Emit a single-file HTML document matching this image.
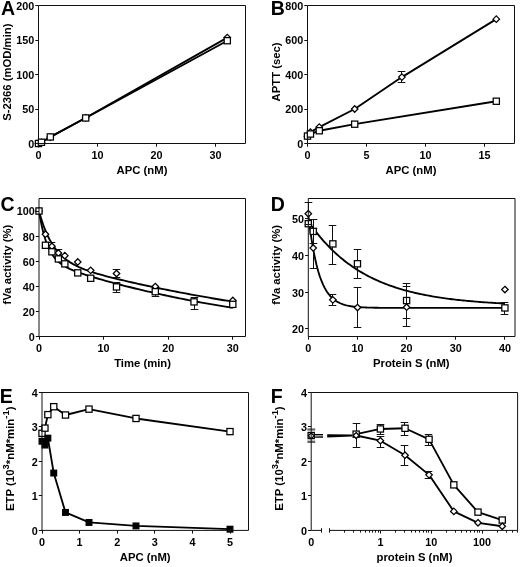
<!DOCTYPE html>
<html><head><meta charset="utf-8"><style>
html,body{margin:0;padding:0;background:#fff;}
svg{display:block;will-change:transform;}
text{font-family:"Liberation Sans", sans-serif;font-weight:bold;fill:#000;}
</style></head><body>
<svg width="520" height="567" viewBox="0 0 520 567">
<rect width="520" height="567" fill="#fff"/>
<polyline points="38.50,143.50 41.45,142.26 50.30,137.08 85.70,117.76 227.30,37.59" fill="none" stroke="#000" stroke-width="1.85" stroke-linejoin="round"/>
<polyline points="38.50,143.50 41.45,142.26 50.30,136.94 85.70,117.97 227.30,40.69" fill="none" stroke="#000" stroke-width="1.85" stroke-linejoin="round"/>
<path d="M38.50 140.25L41.75 143.50L38.50 146.75L35.25 143.50Z" fill="#fff" stroke="#000" stroke-width="1.25"/>
<path d="M41.45 139.01L44.70 142.26L41.45 145.51L38.20 142.26Z" fill="#fff" stroke="#000" stroke-width="1.25"/>
<path d="M50.30 133.83L53.55 137.08L50.30 140.33L47.05 137.08Z" fill="#fff" stroke="#000" stroke-width="1.25"/>
<path d="M85.70 114.51L88.95 117.76L85.70 121.01L82.45 117.76Z" fill="#fff" stroke="#000" stroke-width="1.25"/>
<path d="M227.30 34.34L230.55 37.59L227.30 40.84L224.05 37.59Z" fill="#fff" stroke="#000" stroke-width="1.25"/>
<rect x="35.40" y="140.40" width="6.2" height="6.2" fill="#fff" stroke="#000" stroke-width="1.25"/>
<rect x="38.35" y="139.16" width="6.2" height="6.2" fill="#fff" stroke="#000" stroke-width="1.25"/>
<rect x="47.20" y="133.84" width="6.2" height="6.2" fill="#fff" stroke="#000" stroke-width="1.25"/>
<rect x="82.60" y="114.87" width="6.2" height="6.2" fill="#fff" stroke="#000" stroke-width="1.25"/>
<rect x="224.20" y="37.59" width="6.2" height="6.2" fill="#fff" stroke="#000" stroke-width="1.25"/>
<polyline points="307.50,136.25 310.45,132.12 319.30,127.11 354.70,109.00 401.90,77.09 496.30,19.13" fill="none" stroke="#000" stroke-width="1.85" stroke-linejoin="round"/>
<polyline points="307.50,136.08 310.45,134.01 319.30,130.74 354.70,124.18 496.30,101.24" fill="none" stroke="#000" stroke-width="1.85" stroke-linejoin="round"/>
<line x1="401.50" y1="71.50" x2="401.50" y2="82.50" stroke="#111" stroke-width="1"/>
<line x1="397.70" y1="71.50" x2="405.30" y2="71.50" stroke="#111" stroke-width="1"/>
<line x1="397.70" y1="82.50" x2="405.30" y2="82.50" stroke="#111" stroke-width="1"/>
<path d="M307.50 133.00L310.75 136.25L307.50 139.50L304.25 136.25Z" fill="#fff" stroke="#000" stroke-width="1.25"/>
<path d="M310.45 128.87L313.70 132.12L310.45 135.37L307.20 132.12Z" fill="#fff" stroke="#000" stroke-width="1.25"/>
<path d="M319.30 123.86L322.55 127.11L319.30 130.36L316.05 127.11Z" fill="#fff" stroke="#000" stroke-width="1.25"/>
<path d="M354.70 105.75L357.95 109.00L354.70 112.25L351.45 109.00Z" fill="#fff" stroke="#000" stroke-width="1.25"/>
<path d="M401.90 73.84L405.15 77.09L401.90 80.34L398.65 77.09Z" fill="#fff" stroke="#000" stroke-width="1.25"/>
<path d="M496.30 15.88L499.55 19.13L496.30 22.38L493.05 19.13Z" fill="#fff" stroke="#000" stroke-width="1.25"/>
<rect x="304.40" y="132.98" width="6.2" height="6.2" fill="#fff" stroke="#000" stroke-width="1.25"/>
<rect x="307.35" y="130.91" width="6.2" height="6.2" fill="#fff" stroke="#000" stroke-width="1.25"/>
<rect x="316.20" y="127.64" width="6.2" height="6.2" fill="#fff" stroke="#000" stroke-width="1.25"/>
<rect x="351.60" y="121.08" width="6.2" height="6.2" fill="#fff" stroke="#000" stroke-width="1.25"/>
<rect x="493.20" y="98.14" width="6.2" height="6.2" fill="#fff" stroke="#000" stroke-width="1.25"/>
<polyline points="39.00,211.00 39.50,212.82 39.99,214.59 40.49,216.30 40.99,217.95 41.48,219.55 41.98,221.10 42.48,222.59 42.98,224.04 43.47,225.45 43.97,226.81 44.47,228.12 44.96,229.40 45.46,230.63 45.96,231.83 46.45,232.98 46.95,234.11 47.45,235.19 47.94,236.25 48.44,237.27 48.94,238.26 49.44,239.22 49.93,240.15 50.43,241.05 50.93,241.93 51.42,242.78 51.92,243.60 52.42,244.40 52.91,245.18 53.41,245.94 53.91,246.67 54.40,247.38 54.90,248.07 55.40,248.74 55.90,249.39 56.39,250.03 56.89,250.65 57.39,251.24 57.88,251.83 58.38,252.39 58.38,252.39 61.34,255.47 64.29,258.10 67.25,260.38 70.21,262.37 73.16,264.12 76.12,265.68 79.07,267.09 82.03,268.36 84.99,269.54 87.94,270.62 90.90,271.64 93.86,272.60 96.81,273.51 99.77,274.38 102.72,275.22 105.68,276.03 108.64,276.81 111.59,277.58 114.55,278.32 117.51,279.05 120.46,279.77 123.42,280.47 126.37,281.17 129.33,281.85 132.29,282.52 135.24,283.19 138.20,283.84 141.16,284.49 144.11,285.13 147.07,285.76 150.02,286.39 152.98,287.01 155.94,287.63 158.89,288.23 161.85,288.84 164.81,289.43 167.76,290.02 170.72,290.61 173.67,291.18 176.63,291.76 179.59,292.32 182.54,292.89 185.50,293.44 188.46,294.00 191.41,294.54 194.37,295.08 197.32,295.62 200.28,296.15 203.24,296.68 206.19,297.20 209.15,297.71 212.11,298.23 215.06,298.73 218.02,299.23 220.97,299.73 223.93,300.22 226.89,300.71 229.84,301.19 232.80,301.67" fill="none" stroke="#000" stroke-width="1.85" stroke-linejoin="round"/>
<polyline points="39.00,211.00 39.50,214.04 39.99,216.90 40.49,219.61 40.99,222.17 41.48,224.59 41.98,226.88 42.48,229.04 42.98,231.08 43.47,233.02 43.97,234.85 44.47,236.58 44.96,238.23 45.46,239.78 45.96,241.25 46.45,242.65 46.95,243.98 47.45,245.23 47.94,246.42 48.44,247.56 48.94,248.63 49.44,249.65 49.93,250.63 50.43,251.55 50.93,252.43 51.42,253.27 51.92,254.07 52.42,254.83 52.91,255.56 53.41,256.25 53.91,256.91 54.40,257.54 54.90,258.15 55.40,258.73 55.90,259.28 56.39,259.82 56.89,260.33 57.39,260.82 57.88,261.29 58.38,261.74 58.38,261.74 61.34,264.11 64.29,266.05 67.25,267.69 70.21,269.12 73.16,270.39 76.12,271.55 79.07,272.63 82.03,273.66 84.99,274.63 87.94,275.58 90.90,276.49 93.86,277.38 96.81,278.26 99.77,279.11 102.72,279.96 105.68,280.79 108.64,281.60 111.59,282.41 114.55,283.21 117.51,283.99 120.46,284.76 123.42,285.53 126.37,286.28 129.33,287.02 132.29,287.76 135.24,288.48 138.20,289.20 141.16,289.91 144.11,290.60 147.07,291.29 150.02,291.97 152.98,292.64 155.94,293.31 158.89,293.96 161.85,294.61 164.81,295.25 167.76,295.88 170.72,296.50 173.67,297.11 176.63,297.72 179.59,298.32 182.54,298.91 185.50,299.49 188.46,300.07 191.41,300.64 194.37,301.20 197.32,301.75 200.28,302.30 203.24,302.84 206.19,303.37 209.15,303.90 212.11,304.42 215.06,304.93 218.02,305.44 220.97,305.94 223.93,306.43 226.89,306.92 229.84,307.40 232.80,307.88" fill="none" stroke="#000" stroke-width="1.85" stroke-linejoin="round"/>
<line x1="51.50" y1="242.50" x2="51.50" y2="251.50" stroke="#111" stroke-width="1"/>
<line x1="47.70" y1="242.50" x2="55.30" y2="242.50" stroke="#111" stroke-width="1"/>
<line x1="58.50" y1="249.50" x2="58.50" y2="255.50" stroke="#111" stroke-width="1"/>
<line x1="54.70" y1="249.50" x2="62.30" y2="249.50" stroke="#111" stroke-width="1"/>
<line x1="116.50" y1="269.50" x2="116.50" y2="277.50" stroke="#111" stroke-width="1"/>
<line x1="112.70" y1="269.50" x2="120.30" y2="269.50" stroke="#111" stroke-width="1"/>
<line x1="112.70" y1="277.50" x2="120.30" y2="277.50" stroke="#111" stroke-width="1"/>
<line x1="116.50" y1="282.50" x2="116.50" y2="292.50" stroke="#111" stroke-width="1"/>
<line x1="112.70" y1="282.50" x2="120.30" y2="282.50" stroke="#111" stroke-width="1"/>
<line x1="112.70" y1="292.50" x2="120.30" y2="292.50" stroke="#111" stroke-width="1"/>
<line x1="155.50" y1="287.50" x2="155.50" y2="296.50" stroke="#111" stroke-width="1"/>
<line x1="151.70" y1="287.50" x2="159.30" y2="287.50" stroke="#111" stroke-width="1"/>
<line x1="151.70" y1="296.50" x2="159.30" y2="296.50" stroke="#111" stroke-width="1"/>
<line x1="194.50" y1="297.50" x2="194.50" y2="309.50" stroke="#111" stroke-width="1"/>
<line x1="190.70" y1="297.50" x2="198.30" y2="297.50" stroke="#111" stroke-width="1"/>
<line x1="190.70" y1="309.50" x2="198.30" y2="309.50" stroke="#111" stroke-width="1"/>
<path d="M39.00 207.75L42.25 211.00L39.00 214.25L35.75 211.00Z" fill="#fff" stroke="#000" stroke-width="1.25"/>
<path d="M45.46 230.97L48.71 234.22L45.46 237.47L42.21 234.22Z" fill="#fff" stroke="#000" stroke-width="1.25"/>
<path d="M51.92 243.02L55.17 246.27L51.92 249.52L48.67 246.27Z" fill="#fff" stroke="#000" stroke-width="1.25"/>
<path d="M58.38 249.79L61.63 253.04L58.38 256.29L55.13 253.04Z" fill="#fff" stroke="#000" stroke-width="1.25"/>
<path d="M64.84 252.43L68.09 255.68L64.84 258.93L61.59 255.68Z" fill="#fff" stroke="#000" stroke-width="1.25"/>
<path d="M77.76 258.70L81.01 261.95L77.76 265.20L74.51 261.95Z" fill="#fff" stroke="#000" stroke-width="1.25"/>
<path d="M90.68 267.11L93.93 270.36L90.68 273.61L87.43 270.36Z" fill="#fff" stroke="#000" stroke-width="1.25"/>
<path d="M116.52 270.25L119.77 273.50L116.52 276.75L113.27 273.50Z" fill="#fff" stroke="#000" stroke-width="1.25"/>
<path d="M155.28 283.30L158.53 286.55L155.28 289.80L152.03 286.55Z" fill="#fff" stroke="#000" stroke-width="1.25"/>
<path d="M232.80 297.23L236.05 300.48L232.80 303.73L229.55 300.48Z" fill="#fff" stroke="#000" stroke-width="1.25"/>
<rect x="35.90" y="207.90" width="6.2" height="6.2" fill="#fff" stroke="#000" stroke-width="1.25"/>
<rect x="42.36" y="242.16" width="6.2" height="6.2" fill="#fff" stroke="#000" stroke-width="1.25"/>
<rect x="48.82" y="248.69" width="6.2" height="6.2" fill="#fff" stroke="#000" stroke-width="1.25"/>
<rect x="55.28" y="255.84" width="6.2" height="6.2" fill="#fff" stroke="#000" stroke-width="1.25"/>
<rect x="61.74" y="260.74" width="6.2" height="6.2" fill="#fff" stroke="#000" stroke-width="1.25"/>
<rect x="74.66" y="269.77" width="6.2" height="6.2" fill="#fff" stroke="#000" stroke-width="1.25"/>
<rect x="87.58" y="275.17" width="6.2" height="6.2" fill="#fff" stroke="#000" stroke-width="1.25"/>
<rect x="113.42" y="283.83" width="6.2" height="6.2" fill="#fff" stroke="#000" stroke-width="1.25"/>
<rect x="152.18" y="288.60" width="6.2" height="6.2" fill="#fff" stroke="#000" stroke-width="1.25"/>
<rect x="190.94" y="298.76" width="6.2" height="6.2" fill="#fff" stroke="#000" stroke-width="1.25"/>
<rect x="229.70" y="301.27" width="6.2" height="6.2" fill="#fff" stroke="#000" stroke-width="1.25"/>
<polyline points="308.30,221.37 309.95,223.75 311.60,226.07 313.26,228.32 314.91,230.51 316.56,232.64 318.21,234.70 319.86,236.71 321.52,238.67 323.17,240.57 324.82,242.41 326.47,244.20 328.13,245.95 329.78,247.64 331.43,249.29 333.08,250.89 334.73,252.44 336.39,253.96 338.04,255.43 339.69,256.86 341.34,258.24 342.99,259.59 344.65,260.90 346.30,262.18 347.95,263.42 349.60,264.62 351.25,265.79 352.91,266.93 354.56,268.04 356.21,269.11 357.86,270.16 359.52,271.17 361.17,272.16 362.82,273.12 364.47,274.05 366.12,274.96 367.78,275.84 369.43,276.70 371.08,277.53 372.73,278.34 374.38,279.12 376.04,279.89 377.69,280.63 379.34,281.35 380.99,282.05 382.64,282.74 384.30,283.40 385.95,284.04 387.60,284.67 389.25,285.28 390.91,285.87 392.56,286.44 394.21,287.00 395.86,287.55 397.51,288.07 399.17,288.59 400.82,289.09 402.47,289.57 404.12,290.04 405.77,290.50 407.43,290.95 409.08,291.38 410.73,291.80 412.38,292.21 414.03,292.60 415.69,292.99 417.34,293.37 418.99,293.73 420.64,294.09 422.29,294.43 423.95,294.77 425.60,295.09 427.25,295.41 428.90,295.71 430.56,296.01 432.21,296.30 433.86,296.59 435.51,296.86 437.16,297.13 438.82,297.39 440.47,297.64 442.12,297.88 443.77,298.12 445.42,298.35 447.08,298.58 448.73,298.80 450.38,299.01 452.03,299.22 453.68,299.42 455.34,299.61 456.99,299.80 458.64,299.99 460.29,300.17 461.95,300.34 463.60,300.51 465.25,300.67 466.90,300.83 468.55,300.99 470.21,301.14 471.86,301.29 473.51,301.43 475.16,301.57 476.81,301.70 478.47,301.83 480.12,301.96 481.77,302.09 483.42,302.21 485.07,302.32 486.73,302.44 488.38,302.55 490.03,302.65 491.68,302.76 493.34,302.86 494.99,302.96 496.64,303.06 498.29,303.15 499.94,303.24 501.60,303.33 503.25,303.41 504.90,303.50" fill="none" stroke="#000" stroke-width="1.85" stroke-linejoin="round"/>
<polyline points="308.30,214.82 309.95,228.18 311.60,239.63 313.26,249.43 314.91,257.83 316.56,265.02 318.21,271.18 319.86,276.45 321.52,280.97 323.17,284.84 324.82,288.15 326.47,290.99 328.13,293.42 329.78,295.50 331.43,297.29 333.08,298.81 334.73,300.12 336.39,301.24 338.04,302.20 339.69,303.02 341.34,303.73 342.99,304.33 344.65,304.84 346.30,305.29 347.95,305.67 349.60,305.99 351.25,306.27 352.91,306.51 354.56,306.71 356.21,306.88 357.86,307.03 359.52,307.16 361.17,307.27 362.82,307.36 364.47,307.44 366.12,307.51 367.78,307.57 369.43,307.62 371.08,307.67 372.73,307.70 374.38,307.73 376.04,307.76 377.69,307.79 379.34,307.81 380.99,307.82 382.64,307.84 384.30,307.85 385.95,307.86 387.60,307.87 389.25,307.88 390.91,307.88 392.56,307.89 394.21,307.89 395.86,307.90 397.51,307.90 399.17,307.91 400.82,307.91 402.47,307.91 404.12,307.91 405.77,307.91 407.43,307.92 409.08,307.92 410.73,307.92 412.38,307.92 414.03,307.92 415.69,307.92 417.34,307.92 418.99,307.92 420.64,307.92 422.29,307.92 423.95,307.92 425.60,307.92 427.25,307.92 428.90,307.92 430.56,307.92 432.21,307.92 433.86,307.92 435.51,307.92 437.16,307.92 438.82,307.92 440.47,307.92 442.12,307.92 443.77,307.92 445.42,307.92 447.08,307.92 448.73,307.92 450.38,307.92 452.03,307.92 453.68,307.92 455.34,307.92 456.99,307.92 458.64,307.92 460.29,307.92 461.95,307.92 463.60,307.92 465.25,307.92 466.90,307.92 468.55,307.92 470.21,307.92 471.86,307.92 473.51,307.92 475.16,307.92 476.81,307.92 478.47,307.92 480.12,307.92 481.77,307.92 483.42,307.92 485.07,307.92 486.73,307.92 488.38,307.92 490.03,307.92 491.68,307.92 493.34,307.92 494.99,307.92 496.64,307.92 498.29,307.92 499.94,307.92 501.60,307.92 503.25,307.92 504.90,307.92" fill="none" stroke="#000" stroke-width="1.85" stroke-linejoin="round"/>
<line x1="313.50" y1="219.50" x2="313.50" y2="243.50" stroke="#111" stroke-width="1"/>
<line x1="309.70" y1="219.50" x2="317.30" y2="219.50" stroke="#111" stroke-width="1"/>
<line x1="309.70" y1="243.50" x2="317.30" y2="243.50" stroke="#111" stroke-width="1"/>
<line x1="332.50" y1="225.50" x2="332.50" y2="264.50" stroke="#111" stroke-width="1"/>
<line x1="328.70" y1="225.50" x2="336.30" y2="225.50" stroke="#111" stroke-width="1"/>
<line x1="328.70" y1="264.50" x2="336.30" y2="264.50" stroke="#111" stroke-width="1"/>
<line x1="357.50" y1="249.50" x2="357.50" y2="278.50" stroke="#111" stroke-width="1"/>
<line x1="353.70" y1="249.50" x2="361.30" y2="249.50" stroke="#111" stroke-width="1"/>
<line x1="353.70" y1="278.50" x2="361.30" y2="278.50" stroke="#111" stroke-width="1"/>
<line x1="406.50" y1="283.50" x2="406.50" y2="318.50" stroke="#111" stroke-width="1"/>
<line x1="402.70" y1="283.50" x2="410.30" y2="283.50" stroke="#111" stroke-width="1"/>
<line x1="402.70" y1="318.50" x2="410.30" y2="318.50" stroke="#111" stroke-width="1"/>
<line x1="504.50" y1="302.50" x2="504.50" y2="314.50" stroke="#111" stroke-width="1"/>
<line x1="500.70" y1="302.50" x2="508.30" y2="302.50" stroke="#111" stroke-width="1"/>
<line x1="500.70" y1="314.50" x2="508.30" y2="314.50" stroke="#111" stroke-width="1"/>
<rect x="305.20" y="220.55" width="6.2" height="6.2" fill="#fff" stroke="#000" stroke-width="1.25"/>
<rect x="310.12" y="228.28" width="6.2" height="6.2" fill="#fff" stroke="#000" stroke-width="1.25"/>
<rect x="329.77" y="240.79" width="6.2" height="6.2" fill="#fff" stroke="#000" stroke-width="1.25"/>
<rect x="354.35" y="260.66" width="6.2" height="6.2" fill="#fff" stroke="#000" stroke-width="1.25"/>
<rect x="403.50" y="297.46" width="6.2" height="6.2" fill="#fff" stroke="#000" stroke-width="1.25"/>
<rect x="501.80" y="304.82" width="6.2" height="6.2" fill="#fff" stroke="#000" stroke-width="1.25"/>
<line x1="308.50" y1="202.50" x2="308.50" y2="224.50" stroke="#111" stroke-width="1"/>
<line x1="304.70" y1="202.50" x2="312.30" y2="202.50" stroke="#111" stroke-width="1"/>
<line x1="304.70" y1="224.50" x2="312.30" y2="224.50" stroke="#111" stroke-width="1"/>
<line x1="313.50" y1="228.50" x2="313.50" y2="268.50" stroke="#111" stroke-width="1"/>
<line x1="309.70" y1="228.50" x2="317.30" y2="228.50" stroke="#111" stroke-width="1"/>
<line x1="309.70" y1="268.50" x2="317.30" y2="268.50" stroke="#111" stroke-width="1"/>
<line x1="332.50" y1="294.50" x2="332.50" y2="305.50" stroke="#111" stroke-width="1"/>
<line x1="328.70" y1="294.50" x2="336.30" y2="294.50" stroke="#111" stroke-width="1"/>
<line x1="328.70" y1="305.50" x2="336.30" y2="305.50" stroke="#111" stroke-width="1"/>
<line x1="357.50" y1="287.50" x2="357.50" y2="327.50" stroke="#111" stroke-width="1"/>
<line x1="353.70" y1="287.50" x2="361.30" y2="287.50" stroke="#111" stroke-width="1"/>
<line x1="353.70" y1="327.50" x2="361.30" y2="327.50" stroke="#111" stroke-width="1"/>
<line x1="406.50" y1="286.50" x2="406.50" y2="326.50" stroke="#111" stroke-width="1"/>
<line x1="402.70" y1="286.50" x2="410.30" y2="286.50" stroke="#111" stroke-width="1"/>
<line x1="402.70" y1="326.50" x2="410.30" y2="326.50" stroke="#111" stroke-width="1"/>
<path d="M308.30 210.47L311.55 213.72L308.30 216.97L305.05 213.72Z" fill="#fff" stroke="#000" stroke-width="1.25"/>
<path d="M313.22 244.69L316.47 247.94L313.22 251.19L309.97 247.94Z" fill="#fff" stroke="#000" stroke-width="1.25"/>
<path d="M332.88 296.58L336.12 299.83L332.88 303.08L329.62 299.83Z" fill="#fff" stroke="#000" stroke-width="1.25"/>
<path d="M357.45 304.31L360.70 307.56L357.45 310.81L354.20 307.56Z" fill="#fff" stroke="#000" stroke-width="1.25"/>
<path d="M406.60 303.94L409.85 307.19L406.60 310.44L403.35 307.19Z" fill="#fff" stroke="#000" stroke-width="1.25"/>
<path d="M504.90 286.27L508.15 289.52L504.90 292.77L501.65 289.52Z" fill="#fff" stroke="#000" stroke-width="1.25"/>
<polyline points="42.00,433.31 44.93,428.13 47.87,414.66 53.75,406.71 65.50,415.00 89.00,409.13 136.00,418.46 230.00,431.59" fill="none" stroke="#000" stroke-width="1.85" stroke-linejoin="round"/>
<polyline points="42.00,441.26 44.93,445.06 47.87,438.15 53.75,473.05 65.50,512.43 89.00,522.45 136.00,525.91 230.00,529.19" fill="none" stroke="#000" stroke-width="1.85" stroke-linejoin="round"/>
<rect x="38.90" y="430.21" width="6.2" height="6.2" fill="#fff" stroke="#000" stroke-width="1.25"/>
<rect x="41.83" y="425.03" width="6.2" height="6.2" fill="#fff" stroke="#000" stroke-width="1.25"/>
<rect x="44.77" y="411.56" width="6.2" height="6.2" fill="#fff" stroke="#000" stroke-width="1.25"/>
<rect x="50.65" y="403.61" width="6.2" height="6.2" fill="#fff" stroke="#000" stroke-width="1.25"/>
<rect x="62.40" y="411.90" width="6.2" height="6.2" fill="#fff" stroke="#000" stroke-width="1.25"/>
<rect x="85.90" y="406.03" width="6.2" height="6.2" fill="#fff" stroke="#000" stroke-width="1.25"/>
<rect x="132.90" y="415.36" width="6.2" height="6.2" fill="#fff" stroke="#000" stroke-width="1.25"/>
<rect x="226.90" y="428.49" width="6.2" height="6.2" fill="#fff" stroke="#000" stroke-width="1.25"/>
<rect x="39.15" y="438.41" width="5.7" height="5.7" fill="#000" stroke="#000" stroke-width="1.25"/>
<rect x="42.08" y="442.21" width="5.7" height="5.7" fill="#000" stroke="#000" stroke-width="1.25"/>
<rect x="45.02" y="435.30" width="5.7" height="5.7" fill="#000" stroke="#000" stroke-width="1.25"/>
<rect x="50.90" y="470.20" width="5.7" height="5.7" fill="#000" stroke="#000" stroke-width="1.25"/>
<rect x="62.65" y="509.58" width="5.7" height="5.7" fill="#000" stroke="#000" stroke-width="1.25"/>
<rect x="86.15" y="519.60" width="5.7" height="5.7" fill="#000" stroke="#000" stroke-width="1.25"/>
<rect x="133.15" y="523.06" width="5.7" height="5.7" fill="#000" stroke="#000" stroke-width="1.25"/>
<rect x="227.15" y="526.34" width="5.7" height="5.7" fill="#000" stroke="#000" stroke-width="1.25"/>
<polyline points="314.50,434.70 323.00,434.70" fill="none" stroke="#000" stroke-width="1.4" stroke-linejoin="round"/>
<polyline points="314.50,437.10 323.00,437.00" fill="none" stroke="#000" stroke-width="1.4" stroke-linejoin="round"/>
<path d="M327.2 434.2 L352 434.6 L352 436.6 L327.2 437.6 Z" fill="#000"/>
<polyline points="356.14,434.14 380.40,428.97 405.03,428.28 429.05,439.32 453.83,484.86 477.99,512.12 502.25,520.05" fill="none" stroke="#000" stroke-width="1.85" stroke-linejoin="round"/>
<polyline points="356.14,435.52 380.40,440.70 405.03,455.19 429.05,474.85 453.83,511.42 477.99,522.81 502.25,526.26" fill="none" stroke="#000" stroke-width="1.85" stroke-linejoin="round"/>
<rect x="307.4" y="428.4" width="7.8" height="2.2" fill="#666"/>
<rect x="307.4" y="440.6" width="7.8" height="2.4" fill="#666"/>
<line x1="356.50" y1="423.50" x2="356.50" y2="447.50" stroke="#111" stroke-width="1"/>
<line x1="352.70" y1="423.50" x2="360.30" y2="423.50" stroke="#111" stroke-width="1"/>
<line x1="352.70" y1="447.50" x2="360.30" y2="447.50" stroke="#111" stroke-width="1"/>
<line x1="380.50" y1="424.50" x2="380.50" y2="434.50" stroke="#111" stroke-width="1"/>
<line x1="376.70" y1="424.50" x2="384.30" y2="424.50" stroke="#111" stroke-width="1"/>
<line x1="376.70" y1="434.50" x2="384.30" y2="434.50" stroke="#111" stroke-width="1"/>
<line x1="404.50" y1="422.50" x2="404.50" y2="435.50" stroke="#111" stroke-width="1"/>
<line x1="400.70" y1="422.50" x2="408.30" y2="422.50" stroke="#111" stroke-width="1"/>
<line x1="400.70" y1="435.50" x2="408.30" y2="435.50" stroke="#111" stroke-width="1"/>
<line x1="428.50" y1="434.50" x2="428.50" y2="445.50" stroke="#111" stroke-width="1"/>
<line x1="424.70" y1="434.50" x2="432.30" y2="434.50" stroke="#111" stroke-width="1"/>
<line x1="424.70" y1="445.50" x2="432.30" y2="445.50" stroke="#111" stroke-width="1"/>
<rect x="308.10" y="432.42" width="6.2" height="6.2" fill="#fff" stroke="#000" stroke-width="1.25"/>
<rect x="353.04" y="431.04" width="6.2" height="6.2" fill="#fff" stroke="#000" stroke-width="1.25"/>
<rect x="377.30" y="425.87" width="6.2" height="6.2" fill="#fff" stroke="#000" stroke-width="1.25"/>
<rect x="401.93" y="425.18" width="6.2" height="6.2" fill="#fff" stroke="#000" stroke-width="1.25"/>
<rect x="425.95" y="436.22" width="6.2" height="6.2" fill="#fff" stroke="#000" stroke-width="1.25"/>
<rect x="450.73" y="481.76" width="6.2" height="6.2" fill="#fff" stroke="#000" stroke-width="1.25"/>
<rect x="474.89" y="509.01" width="6.2" height="6.2" fill="#fff" stroke="#000" stroke-width="1.25"/>
<rect x="499.15" y="516.95" width="6.2" height="6.2" fill="#fff" stroke="#000" stroke-width="1.25"/>
<line x1="380.50" y1="436.50" x2="380.50" y2="447.50" stroke="#111" stroke-width="1"/>
<line x1="376.70" y1="436.50" x2="384.30" y2="436.50" stroke="#111" stroke-width="1"/>
<line x1="376.70" y1="447.50" x2="384.30" y2="447.50" stroke="#111" stroke-width="1"/>
<line x1="404.50" y1="445.50" x2="404.50" y2="465.50" stroke="#111" stroke-width="1"/>
<line x1="400.70" y1="445.50" x2="408.30" y2="445.50" stroke="#111" stroke-width="1"/>
<line x1="400.70" y1="465.50" x2="408.30" y2="465.50" stroke="#111" stroke-width="1"/>
<line x1="428.50" y1="471.50" x2="428.50" y2="478.50" stroke="#111" stroke-width="1"/>
<line x1="424.70" y1="471.50" x2="432.30" y2="471.50" stroke="#111" stroke-width="1"/>
<line x1="424.70" y1="478.50" x2="432.30" y2="478.50" stroke="#111" stroke-width="1"/>
<path d="M311.20 432.97L314.10 435.87L311.20 438.77L308.30 435.87Z" fill="#fff" stroke="#000" stroke-width="1.25"/>
<path d="M356.14 432.52L359.14 435.52L356.14 438.52L353.14 435.52Z" fill="#fff" stroke="#000" stroke-width="1.25"/>
<path d="M380.40 437.45L383.65 440.70L380.40 443.95L377.15 440.70Z" fill="#fff" stroke="#000" stroke-width="1.25"/>
<path d="M405.03 451.94L408.28 455.19L405.03 458.44L401.78 455.19Z" fill="#fff" stroke="#000" stroke-width="1.25"/>
<path d="M429.05 471.60L432.30 474.85L429.05 478.10L425.80 474.85Z" fill="#fff" stroke="#000" stroke-width="1.25"/>
<path d="M453.83 508.17L457.08 511.42L453.83 514.67L450.58 511.42Z" fill="#fff" stroke="#000" stroke-width="1.25"/>
<path d="M477.99 519.56L481.24 522.81L477.99 526.06L474.74 522.81Z" fill="#fff" stroke="#000" stroke-width="1.25"/>
<path d="M502.25 523.01L505.50 526.26L502.25 529.51L499.00 526.26Z" fill="#fff" stroke="#000" stroke-width="1.25"/>
<path d="M38.50 143.50V5.50H245.50V143.50H38.50" fill="none" stroke="#111" stroke-width="1"/>
<line x1="35.30" y1="143.50" x2="38.50" y2="143.50" stroke="#111" stroke-width="1"/>
<text x="34.20" y="147.90" text-anchor="end" font-size="10.8" >0</text>
<line x1="35.30" y1="109.50" x2="38.50" y2="109.50" stroke="#111" stroke-width="1"/>
<text x="34.20" y="113.40" text-anchor="end" font-size="10.8" >50</text>
<line x1="35.30" y1="74.50" x2="38.50" y2="74.50" stroke="#111" stroke-width="1"/>
<text x="34.20" y="78.90" text-anchor="end" font-size="10.8" >100</text>
<line x1="35.30" y1="40.50" x2="38.50" y2="40.50" stroke="#111" stroke-width="1"/>
<text x="34.20" y="44.40" text-anchor="end" font-size="10.8" >150</text>
<line x1="35.30" y1="5.50" x2="38.50" y2="5.50" stroke="#111" stroke-width="1"/>
<text x="34.20" y="9.90" text-anchor="end" font-size="10.8" >200</text>
<line x1="38.50" y1="143.50" x2="38.50" y2="146.70" stroke="#111" stroke-width="1"/>
<text x="38.50" y="159.30" text-anchor="middle" font-size="10.8" >0</text>
<line x1="97.50" y1="143.50" x2="97.50" y2="146.70" stroke="#111" stroke-width="1"/>
<text x="97.50" y="159.30" text-anchor="middle" font-size="10.8" >10</text>
<line x1="156.50" y1="143.50" x2="156.50" y2="146.70" stroke="#111" stroke-width="1"/>
<text x="156.50" y="159.30" text-anchor="middle" font-size="10.8" >20</text>
<line x1="215.50" y1="143.50" x2="215.50" y2="146.70" stroke="#111" stroke-width="1"/>
<text x="215.50" y="159.30" text-anchor="middle" font-size="10.8" >30</text>
<text x="142.00" y="173.80" text-anchor="middle" font-size="11.3" >APC (nM)</text>
<text transform="translate(10.90,72.20) rotate(-90)" text-anchor="middle" font-size="11.3">S-2366 (mOD/min)</text>
<text x="1.00" y="15.00" text-anchor="start" font-size="19.5" >A</text>
<path d="M307.50 143.50V5.50H514.50V143.50H307.50" fill="none" stroke="#111" stroke-width="1"/>
<line x1="304.30" y1="143.50" x2="307.50" y2="143.50" stroke="#111" stroke-width="1"/>
<text x="303.20" y="147.90" text-anchor="end" font-size="10.8" >0</text>
<line x1="304.30" y1="109.50" x2="307.50" y2="109.50" stroke="#111" stroke-width="1"/>
<text x="303.20" y="113.40" text-anchor="end" font-size="10.8" >200</text>
<line x1="304.30" y1="74.50" x2="307.50" y2="74.50" stroke="#111" stroke-width="1"/>
<text x="303.20" y="78.90" text-anchor="end" font-size="10.8" >400</text>
<line x1="304.30" y1="40.50" x2="307.50" y2="40.50" stroke="#111" stroke-width="1"/>
<text x="303.20" y="44.40" text-anchor="end" font-size="10.8" >600</text>
<line x1="304.30" y1="5.50" x2="307.50" y2="5.50" stroke="#111" stroke-width="1"/>
<text x="303.20" y="9.90" text-anchor="end" font-size="10.8" >800</text>
<line x1="307.50" y1="143.50" x2="307.50" y2="146.70" stroke="#111" stroke-width="1"/>
<text x="307.50" y="159.30" text-anchor="middle" font-size="10.8" >0</text>
<line x1="366.50" y1="143.50" x2="366.50" y2="146.70" stroke="#111" stroke-width="1"/>
<text x="366.50" y="159.30" text-anchor="middle" font-size="10.8" >5</text>
<line x1="425.50" y1="143.50" x2="425.50" y2="146.70" stroke="#111" stroke-width="1"/>
<text x="425.50" y="159.30" text-anchor="middle" font-size="10.8" >10</text>
<line x1="484.50" y1="143.50" x2="484.50" y2="146.70" stroke="#111" stroke-width="1"/>
<text x="484.50" y="159.30" text-anchor="middle" font-size="10.8" >15</text>
<text x="411.00" y="173.80" text-anchor="middle" font-size="11.3" >APC (nM)</text>
<text transform="translate(280.00,71.90) rotate(-90)" text-anchor="middle" font-size="11.3">APTT (sec)</text>
<text x="270.80" y="14.80" text-anchor="start" font-size="19.5" >B</text>
<path d="M39.00 336.50V198.50H245.50V336.50H39.00" fill="none" stroke="#111" stroke-width="1"/>
<line x1="35.80" y1="336.50" x2="39.00" y2="336.50" stroke="#111" stroke-width="1"/>
<text x="34.70" y="340.90" text-anchor="end" font-size="10.8" >0</text>
<line x1="35.80" y1="311.50" x2="39.00" y2="311.50" stroke="#111" stroke-width="1"/>
<text x="34.70" y="315.80" text-anchor="end" font-size="10.8" >20</text>
<line x1="35.80" y1="286.50" x2="39.00" y2="286.50" stroke="#111" stroke-width="1"/>
<text x="34.70" y="290.70" text-anchor="end" font-size="10.8" >40</text>
<line x1="35.80" y1="261.50" x2="39.00" y2="261.50" stroke="#111" stroke-width="1"/>
<text x="34.70" y="265.60" text-anchor="end" font-size="10.8" >60</text>
<line x1="35.80" y1="236.50" x2="39.00" y2="236.50" stroke="#111" stroke-width="1"/>
<text x="34.70" y="240.50" text-anchor="end" font-size="10.8" >80</text>
<line x1="35.80" y1="211.50" x2="39.00" y2="211.50" stroke="#111" stroke-width="1"/>
<text x="34.70" y="215.40" text-anchor="end" font-size="10.8" >100</text>
<line x1="39.50" y1="336.50" x2="39.50" y2="339.70" stroke="#111" stroke-width="1"/>
<text x="39.00" y="352.30" text-anchor="middle" font-size="10.8" >0</text>
<line x1="103.50" y1="336.50" x2="103.50" y2="339.70" stroke="#111" stroke-width="1"/>
<text x="103.60" y="352.30" text-anchor="middle" font-size="10.8" >10</text>
<line x1="168.50" y1="336.50" x2="168.50" y2="339.70" stroke="#111" stroke-width="1"/>
<text x="168.20" y="352.30" text-anchor="middle" font-size="10.8" >20</text>
<line x1="232.50" y1="336.50" x2="232.50" y2="339.70" stroke="#111" stroke-width="1"/>
<text x="232.80" y="352.30" text-anchor="middle" font-size="10.8" >30</text>
<text x="142.60" y="366.80" text-anchor="middle" font-size="11.3" >Time (min)</text>
<text transform="translate(10.90,264.50) rotate(-90)" text-anchor="middle" font-size="11.3">fVa activity (%)</text>
<text x="0.50" y="211.00" text-anchor="start" font-size="19.5" >C</text>
<path d="M308.30 336.50V198.50H515.00V336.50H308.30" fill="none" stroke="#111" stroke-width="1"/>
<line x1="305.10" y1="328.50" x2="308.30" y2="328.50" stroke="#111" stroke-width="1"/>
<text x="304.00" y="333.30" text-anchor="end" font-size="10.8" >20</text>
<line x1="305.10" y1="292.50" x2="308.30" y2="292.50" stroke="#111" stroke-width="1"/>
<text x="304.00" y="296.50" text-anchor="end" font-size="10.8" >30</text>
<line x1="305.10" y1="255.50" x2="308.30" y2="255.50" stroke="#111" stroke-width="1"/>
<text x="304.00" y="259.70" text-anchor="end" font-size="10.8" >40</text>
<line x1="305.10" y1="218.50" x2="308.30" y2="218.50" stroke="#111" stroke-width="1"/>
<text x="304.00" y="222.90" text-anchor="end" font-size="10.8" >50</text>
<line x1="308.50" y1="336.50" x2="308.50" y2="339.70" stroke="#111" stroke-width="1"/>
<text x="308.30" y="352.30" text-anchor="middle" font-size="10.8" >0</text>
<line x1="357.50" y1="336.50" x2="357.50" y2="339.70" stroke="#111" stroke-width="1"/>
<text x="357.45" y="352.30" text-anchor="middle" font-size="10.8" >10</text>
<line x1="406.50" y1="336.50" x2="406.50" y2="339.70" stroke="#111" stroke-width="1"/>
<text x="406.60" y="352.30" text-anchor="middle" font-size="10.8" >20</text>
<line x1="455.50" y1="336.50" x2="455.50" y2="339.70" stroke="#111" stroke-width="1"/>
<text x="455.75" y="352.30" text-anchor="middle" font-size="10.8" >30</text>
<line x1="504.50" y1="336.50" x2="504.50" y2="339.70" stroke="#111" stroke-width="1"/>
<text x="504.90" y="352.30" text-anchor="middle" font-size="10.8" >40</text>
<text x="411.30" y="366.80" text-anchor="middle" font-size="11.3" >Protein S (nM)</text>
<text transform="translate(280.00,264.90) rotate(-90)" text-anchor="middle" font-size="11.3">fVa activity (%)</text>
<text x="270.80" y="211.00" text-anchor="start" font-size="19.5" >D</text>
<path d="M42.00 530.40V392.50H248.50V530.40H42.00" fill="none" stroke="#111" stroke-width="1"/>
<line x1="38.80" y1="530.50" x2="42.00" y2="530.50" stroke="#111" stroke-width="1"/>
<text x="37.70" y="534.80" text-anchor="end" font-size="10.8" >0</text>
<line x1="38.80" y1="495.50" x2="42.00" y2="495.50" stroke="#111" stroke-width="1"/>
<text x="37.70" y="500.25" text-anchor="end" font-size="10.8" >1</text>
<line x1="38.80" y1="461.50" x2="42.00" y2="461.50" stroke="#111" stroke-width="1"/>
<text x="37.70" y="465.70" text-anchor="end" font-size="10.8" >2</text>
<line x1="38.80" y1="426.50" x2="42.00" y2="426.50" stroke="#111" stroke-width="1"/>
<text x="37.70" y="431.15" text-anchor="end" font-size="10.8" >3</text>
<line x1="38.80" y1="392.50" x2="42.00" y2="392.50" stroke="#111" stroke-width="1"/>
<text x="37.70" y="396.60" text-anchor="end" font-size="10.8" >4</text>
<line x1="42.50" y1="530.40" x2="42.50" y2="533.60" stroke="#111" stroke-width="1"/>
<text x="42.00" y="546.20" text-anchor="middle" font-size="10.8" >0</text>
<line x1="79.50" y1="530.40" x2="79.50" y2="533.60" stroke="#111" stroke-width="1"/>
<text x="79.60" y="546.20" text-anchor="middle" font-size="10.8" >1</text>
<line x1="117.50" y1="530.40" x2="117.50" y2="533.60" stroke="#111" stroke-width="1"/>
<text x="117.20" y="546.20" text-anchor="middle" font-size="10.8" >2</text>
<line x1="154.50" y1="530.40" x2="154.50" y2="533.60" stroke="#111" stroke-width="1"/>
<text x="154.80" y="546.20" text-anchor="middle" font-size="10.8" >3</text>
<line x1="192.50" y1="530.40" x2="192.50" y2="533.60" stroke="#111" stroke-width="1"/>
<text x="192.40" y="546.20" text-anchor="middle" font-size="10.8" >4</text>
<line x1="230.50" y1="530.40" x2="230.50" y2="533.60" stroke="#111" stroke-width="1"/>
<text x="230.00" y="546.20" text-anchor="middle" font-size="10.8" >5</text>
<text x="145.20" y="561.40" text-anchor="middle" font-size="11.3" >APC (nM)</text>
<text transform="translate(13.80,458.80) rotate(-90)" text-anchor="middle" font-size="11.4">ETP (10<tspan font-size="9.4" dy="-5.3">3</tspan><tspan dy="5.3">*nM*min</tspan><tspan font-size="9.4" dy="-5.3">-1</tspan><tspan dy="5.3">)</tspan></text>
<text x="-0.20" y="403.00" text-anchor="start" font-size="19.5" >E</text>
<path d="M311.2 530.4V392.5H517.6V530.4" fill="none" stroke="#111" stroke-width="1"/>
<line x1="311.20" y1="530.40" x2="321.60" y2="530.40" stroke="#111" stroke-width="1"/>
<line x1="321.50" y1="528.20" x2="321.50" y2="532.60" stroke="#111" stroke-width="1"/>
<line x1="329.50" y1="530.40" x2="517.60" y2="530.40" stroke="#111" stroke-width="1"/>
<line x1="329.50" y1="528.20" x2="329.50" y2="532.60" stroke="#111" stroke-width="1"/>
<line x1="308.00" y1="530.50" x2="311.20" y2="530.50" stroke="#111" stroke-width="1"/>
<text x="306.90" y="534.80" text-anchor="end" font-size="10.8" >0</text>
<line x1="308.00" y1="495.50" x2="311.20" y2="495.50" stroke="#111" stroke-width="1"/>
<text x="306.90" y="500.30" text-anchor="end" font-size="10.8" >1</text>
<line x1="308.00" y1="461.50" x2="311.20" y2="461.50" stroke="#111" stroke-width="1"/>
<text x="306.90" y="465.80" text-anchor="end" font-size="10.8" >2</text>
<line x1="308.00" y1="426.50" x2="311.20" y2="426.50" stroke="#111" stroke-width="1"/>
<text x="306.90" y="431.30" text-anchor="end" font-size="10.8" >3</text>
<line x1="308.00" y1="392.50" x2="311.20" y2="392.50" stroke="#111" stroke-width="1"/>
<text x="306.90" y="396.80" text-anchor="end" font-size="10.8" >4</text>
<text x="311.20" y="546.20" text-anchor="middle" font-size="10.8" >0</text>
<line x1="344.50" y1="530.40" x2="344.50" y2="532.60" stroke="#111" stroke-width="1"/>
<line x1="353.50" y1="530.40" x2="353.50" y2="532.60" stroke="#111" stroke-width="1"/>
<line x1="360.50" y1="530.40" x2="360.50" y2="532.60" stroke="#111" stroke-width="1"/>
<line x1="365.50" y1="530.40" x2="365.50" y2="532.60" stroke="#111" stroke-width="1"/>
<line x1="369.50" y1="530.40" x2="369.50" y2="532.60" stroke="#111" stroke-width="1"/>
<line x1="372.50" y1="530.40" x2="372.50" y2="532.60" stroke="#111" stroke-width="1"/>
<line x1="375.50" y1="530.40" x2="375.50" y2="532.60" stroke="#111" stroke-width="1"/>
<line x1="378.50" y1="530.40" x2="378.50" y2="532.60" stroke="#111" stroke-width="1"/>
<line x1="380.50" y1="530.40" x2="380.50" y2="533.60" stroke="#111" stroke-width="1"/>
<line x1="395.50" y1="530.40" x2="395.50" y2="532.60" stroke="#111" stroke-width="1"/>
<line x1="404.50" y1="530.40" x2="404.50" y2="532.60" stroke="#111" stroke-width="1"/>
<line x1="411.50" y1="530.40" x2="411.50" y2="532.60" stroke="#111" stroke-width="1"/>
<line x1="415.50" y1="530.40" x2="415.50" y2="532.60" stroke="#111" stroke-width="1"/>
<line x1="419.50" y1="530.40" x2="419.50" y2="532.60" stroke="#111" stroke-width="1"/>
<line x1="423.50" y1="530.40" x2="423.50" y2="532.60" stroke="#111" stroke-width="1"/>
<line x1="426.50" y1="530.40" x2="426.50" y2="532.60" stroke="#111" stroke-width="1"/>
<line x1="428.50" y1="530.40" x2="428.50" y2="532.60" stroke="#111" stroke-width="1"/>
<line x1="431.50" y1="530.40" x2="431.50" y2="533.60" stroke="#111" stroke-width="1"/>
<line x1="446.50" y1="530.40" x2="446.50" y2="532.60" stroke="#111" stroke-width="1"/>
<line x1="455.50" y1="530.40" x2="455.50" y2="532.60" stroke="#111" stroke-width="1"/>
<line x1="461.50" y1="530.40" x2="461.50" y2="532.60" stroke="#111" stroke-width="1"/>
<line x1="466.50" y1="530.40" x2="466.50" y2="532.60" stroke="#111" stroke-width="1"/>
<line x1="470.50" y1="530.40" x2="470.50" y2="532.60" stroke="#111" stroke-width="1"/>
<line x1="474.50" y1="530.40" x2="474.50" y2="532.60" stroke="#111" stroke-width="1"/>
<line x1="477.50" y1="530.40" x2="477.50" y2="532.60" stroke="#111" stroke-width="1"/>
<line x1="479.50" y1="530.40" x2="479.50" y2="532.60" stroke="#111" stroke-width="1"/>
<line x1="482.50" y1="530.40" x2="482.50" y2="533.60" stroke="#111" stroke-width="1"/>
<line x1="497.50" y1="530.40" x2="497.50" y2="532.60" stroke="#111" stroke-width="1"/>
<line x1="506.50" y1="530.40" x2="506.50" y2="532.60" stroke="#111" stroke-width="1"/>
<line x1="512.50" y1="530.40" x2="512.50" y2="532.60" stroke="#111" stroke-width="1"/>
<line x1="517.50" y1="530.40" x2="517.50" y2="532.60" stroke="#111" stroke-width="1"/>
<text x="380.40" y="546.20" text-anchor="middle" font-size="10.8" >1</text>
<text x="431.25" y="546.20" text-anchor="middle" font-size="10.8" >10</text>
<text x="482.10" y="546.20" text-anchor="middle" font-size="10.8" >100</text>
<text x="414.50" y="561.40" text-anchor="middle" font-size="11.3" >protein S (nM)</text>
<text transform="translate(283.40,458.60) rotate(-90)" text-anchor="middle" font-size="11.4">ETP (10<tspan font-size="9.4" dy="-5.3">3</tspan><tspan dy="5.3">*nM*min</tspan><tspan font-size="9.4" dy="-5.3">-1</tspan><tspan dy="5.3">)</tspan></text>
<text x="270.80" y="403.00" text-anchor="start" font-size="19.5" >F</text>
</svg></body></html>
